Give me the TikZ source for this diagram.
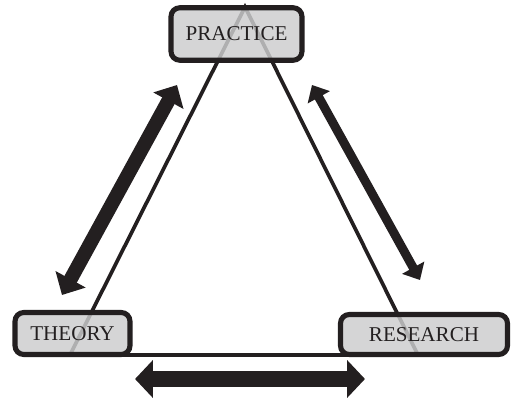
\documentclass[tikz,border=0pt]{standalone}
\usepackage{fontspec}
\setmainfont{Liberation Serif}
\usetikzlibrary{arrows.meta}
\definecolor{boxgray}{RGB}{204,205,206}
\definecolor{ink}{RGB}{35,31,32}

\begin{document}
\begin{tikzpicture}[x=0.02cm,y=-0.02cm,
  corner/.style={draw=ink,line width=2.9pt,rounded corners=5pt,fill=boxgray,
    fill opacity=0.83,text opacity=1,text=ink,inner sep=0pt,
    font=\fontsize{12}{14}\selectfont},
  side/.style={ink,line width=2.1pt},
  twoway/.style args={#1/#2/#3}{ink,line width=#1,
    {Triangle[length=#2,width=#3]}-{Triangle[length=#2,width=#3]}}]
\useasboundingbox (0,0) rectangle (512,399);
% the triangle first, so it shows faintly through the boxes
\coordinate (P) at (245,7);
\coordinate (T) at (70,355);
\coordinate (R) at (418,355);
\draw[side] (T)--(P)--(R)--cycle;
\node[corner,minimum width=2.62cm,minimum height=1.05cm] (practice) at (236.5,34) {PRACTICE};
\node[corner,minimum width=2.30cm,minimum height=0.84cm] (theory) at (72.5,333.5) {THEORY};
\node[corner,minimum width=3.34cm,minimum height=0.80cm] (research) at (424,334.5) {RESEARCH};
% arrows beside the sides
\coordinate (l1) at (62,295);
\coordinate (l2) at (177,85);
\coordinate (r1) at (312,85);
\coordinate (r2) at (420,280);
\coordinate (b1) at (135,379);
\coordinate (b2) at (365,379);
\draw[twoway=8pt/10.2pt/19pt] (l1)--(l2);
\draw[twoway=5.1pt/8pt/14pt] (r1)--(r2);
\draw[twoway=9pt/10.2pt/21pt] (b1)--(b2);
\end{tikzpicture}
\end{document}
